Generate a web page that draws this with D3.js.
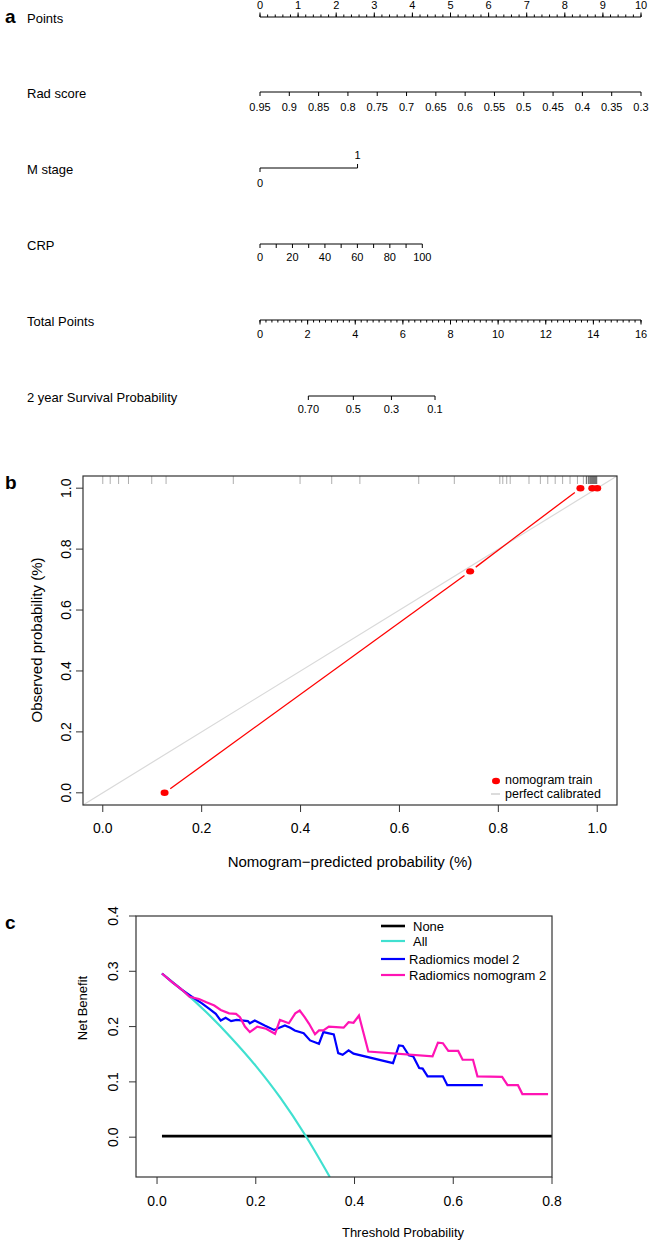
<!DOCTYPE html>
<html>
<head>
<meta charset="utf-8">
<script src="https://cdn.jsdelivr.net/npm/d3@7"></script>
<style>
  body { margin: 0; background: #fff; }
  svg { font-family: "Liberation Sans", Arial, sans-serif; display: block; }
</style>
</head>
<body>
<script>
// ---- panel a : nomogram ----
var pointTicks = [0, 1, 2, 3, 4, 5, 6, 7, 8, 9, 10];
var radScoreTicks = [0.95, 0.9, 0.85, 0.8, 0.75, 0.7, 0.65, 0.6, 0.55, 0.5, 0.45, 0.4, 0.35, 0.3];
var radScorePoints = [0, 10];          // points for 0.95 and 0.3
var mStageLevels = [0, 1];
var mStagePoints = [0, 2.56];
var crpTicks = [0, 10, 20, 30, 40, 50, 60, 70, 80, 90, 100];
var crpPoints = [0, 4.26];             // points for CRP 0 and 100
var totalTicks = [0, 2, 4, 6, 8, 10, 12, 14, 16];
var survLabels = ["0.70", "0.5", "0.3", "0.1"];
var survTotalPoints = [2.03, 3.92, 5.52, 7.35];
var rowNames = ["Points", "Rad score", "M stage", "CRP", "Total Points", "2 year Survival Probability"];

// ---- panel b : calibration ----
var calPred = [0.125, 0.743, 0.966, 0.99, 1.0];
var calObs = [0.0, 0.727, 1.0, 1.0, 1.0];
var rugPred = [0.0, 0.015, 0.032, 0.052, 0.099, 0.128, 0.264, 0.399, 0.463, 0.52, 0.639, 0.711,
  0.803, 0.809, 0.817, 0.824, 0.862, 0.885, 0.9, 0.915, 0.93, 0.945, 0.96, 0.972, 0.978, 0.982,
  0.985, 0.987, 0.989, 0.991, 0.993, 0.995, 0.997, 0.999];
var calTicks = [0, 0.2, 0.4, 0.6, 0.8, 1.0];

// ---- panel c : decision curve ----
var allThresh = [0.01, 0.05, 0.1, 0.15, 0.2, 0.25, 0.3, 0.35];
var allNB = [0.296, 0.267, 0.226, 0.180, 0.129, 0.071, 0.004, -0.072];
var noneThresh = [0.01, 0.8];
var noneNB = [0.002, 0.002];
var modelThresh = [0.01,0.03,0.05,0.066,0.077,0.091,0.106,0.119,0.129,0.139,0.15,0.161,0.184,0.188,0.198,0.218,0.237,0.259,0.27,0.279,0.297,0.31,0.328,0.337,0.358,0.367,0.376,0.388,0.398,0.478,0.49,0.498,0.51,0.519,0.531,0.538,0.548,0.579,0.588,0.66];
var modelNB = [0.296,0.281,0.267,0.257,0.25,0.242,0.232,0.223,0.211,0.216,0.21,0.212,0.21,0.206,0.211,0.202,0.194,0.202,0.198,0.193,0.188,0.175,0.169,0.19,0.186,0.152,0.149,0.157,0.151,0.134,0.166,0.165,0.148,0.146,0.125,0.124,0.11,0.11,0.094,0.094];
var nomoThresh = [0.01,0.03,0.05,0.066,0.085,0.1,0.116,0.129,0.146,0.16,0.168,0.178,0.188,0.203,0.221,0.239,0.249,0.267,0.28,0.289,0.299,0.308,0.32,0.328,0.337,0.348,0.378,0.388,0.398,0.409,0.428,0.558,0.569,0.579,0.59,0.61,0.619,0.64,0.649,0.699,0.71,0.731,0.74,0.792];
var nomoNB = [0.296,0.281,0.267,0.254,0.25,0.244,0.238,0.23,0.224,0.223,0.217,0.2,0.19,0.2,0.196,0.187,0.212,0.206,0.224,0.229,0.217,0.205,0.186,0.193,0.193,0.2,0.198,0.208,0.207,0.22,0.155,0.146,0.171,0.17,0.156,0.156,0.14,0.14,0.11,0.109,0.094,0.094,0.078,0.078];
var dcaTicksX = [0, 0.2, 0.4, 0.6, 0.8];
var dcaTicksY = [0, 0.1, 0.2, 0.3, 0.4];
var dcaNames = ["None", "All", "Radiomics model 2", "Radiomics nomogram 2"];
var dcaColors = ["#000000", "#40E0D0", "#0000FF", "#FF14B4"];

var svg = d3.select("body").append("svg").attr("width", 649).attr("height", 1240);
svg.append("rect").attr("width", 649).attr("height", 1240).attr("fill", "#fff");

function panelLetter(t, y) {
  svg.append("text").attr("x", 5).attr("y", y).text(t)
    .attr("font-size", 19).attr("font-weight", "bold");
}
panelLetter("a", 23); panelLetter("b", 489); panelLetter("c", 929);

// =================== a ===================
var ga = svg.append("g").attr("font-size", 11);
var pts = d3.scaleLinear().domain([0, 10]).range([260, 641]);
var rowY = [17, 92, 168, 244, 320, 396];

rowNames.forEach(function(n, i) {
  svg.append("text").attr("x", 27).attr("y", rowY[i] + 1).attr("dy", "0.35em")
    .attr("font-size", 13).text(n);
});

function line(g, x1, x2, y) {
  g.append("line").attr("x1", x1).attr("x2", x2).attr("y1", y).attr("y2", y)
    .attr("stroke", "#000").attr("stroke-width", 1);
}
function tick(g, x, y, len) {
  g.append("line").attr("x1", x).attr("x2", x).attr("y1", y).attr("y2", y + len)
    .attr("stroke", "#000").attr("stroke-width", 1);
}
function label(g, x, y, t) {
  g.append("text").attr("x", x).attr("y", y).attr("text-anchor", "middle").text(t);
}

// Points
line(ga, pts(0), pts(10), rowY[0]);
d3.range(0, 10.001, 0.2).forEach(function(v) { tick(ga, pts(v), rowY[0], -2.5); });
pointTicks.forEach(function(v) { tick(ga, pts(v), rowY[0], -4.5); label(ga, pts(v), 9, v); });

// Rad score
var rad = d3.scaleLinear().domain([radScoreTicks[0], radScoreTicks[radScoreTicks.length - 1]])
  .range([pts(radScorePoints[0]), pts(radScorePoints[1])]);
line(ga, rad(0.95), rad(0.3), rowY[1]);
radScoreTicks.forEach(function(v) { tick(ga, rad(v), rowY[1], 4); label(ga, rad(v), 111, v); });

// M stage
var ms = d3.scaleLinear().domain(mStageLevels).range([pts(mStagePoints[0]), pts(mStagePoints[1])]);
line(ga, ms(0), ms(1), rowY[2]);
tick(ga, ms(0), rowY[2], 4); label(ga, ms(0), 187, "0");
tick(ga, ms(1), rowY[2], -4); label(ga, ms(1), 159, "1");

// CRP
var crp = d3.scaleLinear().domain([0, 100]).range([pts(crpPoints[0]), pts(crpPoints[1])]);
line(ga, crp(0), crp(100), rowY[3]);
crpTicks.forEach(function(v) {
  tick(ga, crp(v), rowY[3], 4);
  if (v % 20 == 0) label(ga, crp(v), 261, v);
});

// Total points
var tot = d3.scaleLinear().domain([0, 16]).range([260, 641]);
line(ga, tot(0), tot(16), rowY[4]);
d3.range(0, 16.001, 0.25).forEach(function(v) { tick(ga, tot(v), rowY[4], 2.5); });
totalTicks.forEach(function(v) { tick(ga, tot(v), rowY[4], 4.5); label(ga, tot(v), 338, v); });

// Survival
line(ga, tot(survTotalPoints[0]), tot(survTotalPoints[survTotalPoints.length - 1]), rowY[5]);
survTotalPoints.forEach(function(p, i) {
  tick(ga, tot(p), rowY[5], 4); label(ga, tot(p), 413, survLabels[i]);
});

// =================== b ===================
var xb = d3.scaleLinear().domain([-0.04, 1.04]).range([83, 617]);
var yb = d3.scaleLinear().domain([-0.04, 1.04]).range([805, 476]);
var gb = svg.append("g");

// perfect calibrated diagonal
gb.append("line").attr("x1", xb(-0.04)).attr("y1", yb(-0.04)).attr("x2", xb(1.04)).attr("y2", yb(1.04))
  .attr("stroke", "#d9d9d9").attr("stroke-width", 1.2);

// rug
gb.selectAll(".rug").data(rugPred).enter().append("line")
  .attr("x1", function(d) { return xb(d); }).attr("x2", function(d) { return xb(d); })
  .attr("y1", 476).attr("y2", 484)
  .attr("stroke", function(d) { return d > 0.975 ? "#333" : "#999"; }).attr("stroke-width", 0.8);

// red line with gaps at points
var calPts = calPred.map(function(p, i) { return [xb(p), yb(calObs[i])]; });
for (var i = 0; i < calPts.length - 1; i++) {
  var a = calPts[i], b = calPts[i + 1];
  var dx = b[0] - a[0], dy = b[1] - a[1], L = Math.sqrt(dx * dx + dy * dy);
  if (L < 16) continue;
  var g0 = 7 / L;
  gb.append("line").attr("x1", a[0] + dx * g0).attr("y1", a[1] + dy * g0)
    .attr("x2", b[0] - dx * g0).attr("y2", b[1] - dy * g0)
    .attr("stroke", "#FF0000").attr("stroke-width", 1.3);
}
gb.selectAll(".cal").data(calPts).enter().append("ellipse")
  .attr("cx", function(d) { return d[0]; }).attr("cy", function(d) { return d[1]; })
  .attr("rx", 4).attr("ry", 3.2).attr("fill", "#FF0000");

gb.append("rect").attr("x", 83).attr("y", 476).attr("width", 534).attr("height", 329)
  .attr("fill", "none").attr("stroke", "#333").attr("stroke-width", 1.2);

calTicks.forEach(function(v) {
  gb.append("line").attr("x1", xb(v)).attr("x2", xb(v)).attr("y1", 805).attr("y2", 812).attr("stroke", "#333");
  gb.append("text").attr("x", xb(v)).attr("y", 833).attr("text-anchor", "middle")
    .attr("font-size", 14).text(d3.format(".1f")(v));
  gb.append("line").attr("x1", 83).attr("x2", 76).attr("y1", yb(v)).attr("y2", yb(v)).attr("stroke", "#333");
  gb.append("text").attr("transform", "translate(71," + yb(v) + ") rotate(-90)")
    .attr("text-anchor", "middle").attr("font-size", 14).text(d3.format(".1f")(v));
});
gb.append("text").attr("x", 350).attr("y", 867).attr("text-anchor", "middle").attr("font-size", 15)
  .text("Nomogram\u2212predicted probability (%)");
gb.append("text").attr("transform", "translate(42,640) rotate(-90)").attr("text-anchor", "middle")
  .attr("font-size", 15).text("Observed probability (%)");

// legend b
gb.append("ellipse").attr("cx", 496).attr("cy", 781).attr("rx", 4).attr("ry", 3.2).attr("fill", "#FF0000");
gb.append("text").attr("x", 505).attr("y", 780).attr("dy", "0.35em").attr("font-size", 12.5).text("nomogram train");
gb.append("line").attr("x1", 491).attr("x2", 500).attr("y1", 794).attr("y2", 794).attr("stroke", "#d0d0d0").attr("stroke-width", 1.5);
gb.append("text").attr("x", 505).attr("y", 794).attr("dy", "0.35em").attr("font-size", 12.5).text("perfect calibrated");

// =================== c ===================
var xc = d3.scaleLinear().domain([-0.0426, 0.8]).range([136, 552]);
var yc = d3.scaleLinear().domain([-0.072, 0.4]).range([1177, 916]);
var gc = svg.append("g");
var clip = svg.append("clipPath").attr("id", "clipc");
clip.append("rect").attr("x", 136).attr("y", 916).attr("width", 416).attr("height", 261);

function dcaLine(xs, ys) {
  return d3.line().x(function(d, i) { return xc(xs[i]); }).y(function(d, i) { return yc(ys[i]); })(xs);
}
var series = [[noneThresh, noneNB], [allThresh, allNB], [modelThresh, modelNB], [nomoThresh, nomoNB]];
series.forEach(function(s, k) {
  var p;
  if (k == 1) {
    p = d3.line().curve(d3.curveMonotoneX)
      .x(function(d, i) { return xc(s[0][i]); }).y(function(d, i) { return yc(s[1][i]); })(s[0]);
  } else {
    p = dcaLine(s[0], s[1]);
  }
  gc.append("path").attr("d", p).attr("fill", "none").attr("stroke", dcaColors[k])
    .attr("stroke-width", k == 0 ? 2.6 : 2.2).attr("clip-path", "url(#clipc)");
});

gc.append("rect").attr("x", 136).attr("y", 916).attr("width", 416).attr("height", 261)
  .attr("fill", "none").attr("stroke", "#333").attr("stroke-width", 1.2);

dcaTicksX.forEach(function(v) {
  gc.append("line").attr("x1", xc(v)).attr("x2", xc(v)).attr("y1", 1177).attr("y2", 1184).attr("stroke", "#333");
  gc.append("text").attr("x", xc(v)).attr("y", 1206).attr("text-anchor", "middle").attr("font-size", 14)
    .text(d3.format(".1f")(v));
});
dcaTicksY.forEach(function(v) {
  gc.append("line").attr("x1", 136).attr("x2", 129).attr("y1", yc(v)).attr("y2", yc(v)).attr("stroke", "#333");
  gc.append("text").attr("transform", "translate(118," + yc(v) + ") rotate(-90)")
    .attr("text-anchor", "middle").attr("font-size", 14).text(d3.format(".1f")(v));
});
gc.append("text").attr("x", 403).attr("y", 1237).attr("text-anchor", "middle").attr("font-size", 13)
  .text("Threshold Probability");
gc.append("text").attr("transform", "translate(87,1008) rotate(-90)").attr("text-anchor", "middle")
  .attr("font-size", 13).text("Net Benefit");

// legend c
var legY = [926, 941, 959, 975];
var legTx = [413, 413, 409, 409];
dcaNames.forEach(function(n, k) {
  gc.append("line").attr("x1", 381).attr("x2", 405).attr("y1", legY[k]).attr("y2", legY[k])
    .attr("stroke", dcaColors[k]).attr("stroke-width", k == 0 ? 2.6 : 2.2);
  gc.append("text").attr("x", legTx[k]).attr("y", legY[k]).attr("dy", "0.35em").attr("font-size", 13).text(n);
});
</script>
</body>
</html>
